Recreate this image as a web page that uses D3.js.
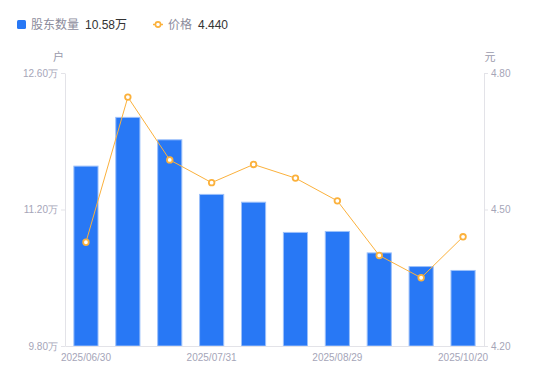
<!DOCTYPE html>
<html>
<head>
<meta charset="utf-8">
<script src="https://cdn.jsdelivr.net/npm/d3@7"></script>
<style>
  body { margin: 0; background: #fff; }
  svg { font-family: "Liberation Sans", "Noto Sans CJK SC", sans-serif; }
</style>
</head>
<body>
<div id="chart"></div>
<script>
// data
var dates = ["2025/06/30", "2025/07/10", "2025/07/20", "2025/07/31", "2025/08/08",
             "2025/08/20", "2025/08/29", "2025/09/19", "2025/09/30", "2025/10/20"];
var holders = [11.65, 12.15, 11.92, 11.36, 11.28, 10.97, 10.98, 10.76, 10.62, 10.58];  // 万户
var prices = [4.428, 4.747, 4.609, 4.559, 4.599, 4.569, 4.519, 4.399, 4.350, 4.440]; // 元
var leftTicks = [9.80, 11.20, 12.60];
var rightTicks = [4.20, 4.50, 4.80];
var dateTicks = ["2025/06/30", "2025/07/31", "2025/08/29", "2025/10/20"];

var width = 550, height = 381;
var margin = {top: 73, right: 66, bottom: 35, left: 65};
var barColor = "#2878f5", lineColor = "#fbb13c", axisColor = "#e3e3e8", tickText = "#a5a5b8";

var svg = d3.select("#chart").append("svg")
    .attr("width", width)
    .attr("height", height);

var x = d3.scaleBand()
    .domain(dates)
    .range([margin.left, width - margin.right])
    .paddingInner(0.4)
    .paddingOuter(0.2);
var yL = d3.scaleLinear().domain([9.80, 12.60]).range([height - margin.bottom, margin.top]);
var yR = d3.scaleLinear().domain([4.20, 4.80]).range([height - margin.bottom, margin.top]);

// Bars
svg.append("g")
    .selectAll("rect")
    .data(holders)
    .enter().append("rect")
        .attr("x", function(d, i) { return x(dates[i]) + 0.5; })
        .attr("y", function(d) { return yL(d) + 0.5; })
        .attr("width", x.bandwidth() - 1)
        .attr("height", function(d) { return yL(9.80) - yL(d) - 0.5; })
        .attr("fill", barColor)
        .attr("stroke", "#9cc0fa")
        .attr("stroke-width", 1);

// Axes
function styleAxis(g) {
    g.select(".domain").attr("stroke", axisColor);
    g.selectAll(".tick line").attr("stroke", axisColor);
    g.selectAll(".tick text").attr("fill", tickText).attr("font-size", 10);
}

svg.append("g")
    .attr("transform", "translate(" + margin.left + ",0)")
    .call(d3.axisLeft(yL).tickValues(leftTicks).tickSize(4).tickSizeOuter(0).tickPadding(3)
        .tickFormat(function(d) { return d.toFixed(2) + "万"; }))
    .call(styleAxis);

svg.append("g")
    .attr("transform", "translate(" + (width - margin.right) + ",0)")
    .call(d3.axisRight(yR).tickValues(rightTicks).tickSize(4).tickSizeOuter(0).tickPadding(3)
        .tickFormat(function(d) { return d.toFixed(2); }))
    .call(styleAxis);

svg.append("g")
    .attr("transform", "translate(0," + (height - margin.bottom) + ")")
    .call(d3.axisBottom(x).tickValues(dateTicks).tickSize(0).tickSizeOuter(0).tickPadding(8))
    .call(styleAxis);

// axis units
svg.append("text").attr("x", 58.5).attr("y", 61).attr("text-anchor", "middle")
    .attr("font-size", 11).attr("fill", "#9a9aab").text("户");
svg.append("text").attr("x", 490).attr("y", 61).attr("text-anchor", "middle")
    .attr("font-size", 11).attr("fill", "#9a9aab").text("元");

// Price line
var line = d3.line()
    .x(function(d, i) { return x(dates[i]) + x.bandwidth() / 2; })
    .y(function(d) { return yR(d); });

svg.append("path")
    .datum(prices)
    .attr("fill", "none")
    .attr("stroke", lineColor)
    .attr("stroke-width", 1)
    .attr("d", line);

svg.append("g")
    .selectAll("circle")
    .data(prices)
    .enter().append("circle")
        .attr("cx", function(d, i) { return x(dates[i]) + x.bandwidth() / 2; })
        .attr("cy", function(d) { return yR(d); })
        .attr("r", 2.8)
        .attr("fill", "#fff")
        .attr("stroke", lineColor)
        .attr("stroke-width", 1.8);

// Legend
var legend = svg.append("g").attr("font-size", 12);
legend.append("rect").attr("x", 17).attr("y", 20).attr("width", 9).attr("height", 9)
    .attr("rx", 1.5).attr("fill", barColor);
legend.append("text").attr("x", 31).attr("y", 29).attr("fill", "#8c8c9c").text("股东数量");
legend.append("text").attr("x", 85).attr("y", 29).attr("fill", "#333").text(holders[holders.length - 1].toFixed(2) + "万");

legend.append("line").attr("x1", 153).attr("x2", 163).attr("y1", 24.5).attr("y2", 24.5)
    .attr("stroke", lineColor).attr("stroke-width", 1.5);
legend.append("circle").attr("cx", 158).attr("cy", 24.5).attr("r", 2.6)
    .attr("fill", "#fff").attr("stroke", lineColor).attr("stroke-width", 1.6);
legend.append("text").attr("x", 168).attr("y", 29).attr("fill", "#8c8c9c").text("价格");
legend.append("text").attr("x", 198).attr("y", 29).attr("fill", "#333").text(prices[prices.length - 1].toFixed(3));
</script>
</body>
</html>
